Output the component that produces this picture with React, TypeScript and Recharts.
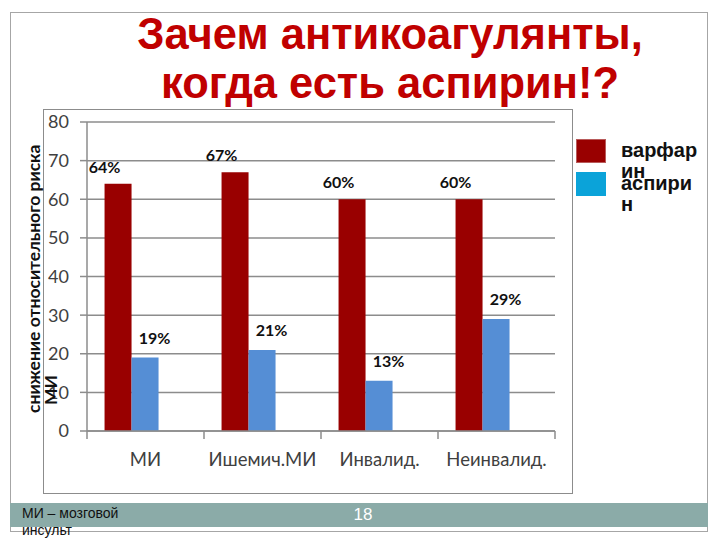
import { BarChart, Bar, XAxis, YAxis, CartesianGrid, LabelList } from 'recharts'

const categories = ['МИ', 'Ишемич.МИ', 'Инвалид.', 'Неинвалид.']
const warfarin = [64, 67, 60, 60]
const aspirin = [19, 21, 13, 29]
const yTicks = [0, 10, 20, 30, 40, 50, 60, 70, 80]
const seriesNames = ['варфарин', 'аспирин']

const data = categories.map((name, i) => ({
  name,
  warfarin: warfarin[i],
  aspirin: aspirin[i],
}))

// plot area inside the 720x540 slide
const PLOT_LEFT = 87
const PLOT_RIGHT = 555
const PLOT_TOP = 122
const PLOT_BOTTOM = 431
const Y_AXIS_W = 40
const X_AXIS_H = 30
const BAND = (PLOT_RIGHT - PLOT_LEFT) / categories.length

const RED = '#990000'
const BLUE = '#558ED5'
const legendColors = ['#990000', '#0BA3D9']
const GRID = '#8c8c8c'
const chartFont = 'Lato, "Noto Sans", sans-serif'

function XTick(props: any) {
  const { x, y, payload, index } = props
  const last = index === categories.length - 1
  return (
    <g>
      <line x1={x - BAND / 2} x2={x - BAND / 2} y1={y} y2={y + 8} stroke={GRID} strokeWidth={1.5} />
      {last && <line x1={x + BAND / 2} x2={x + BAND / 2} y1={y} y2={y + 8} stroke={GRID} strokeWidth={1.5} />}
      <text x={x} y={y + 35} textAnchor="middle" fontSize={18.5} fill="#404040" fontFamily={chartFont}>
        {payload.value}
      </text>
    </g>
  )
}

function redLabel(props: any) {
  const { x, y, value } = props
  return (
    <text x={x} y={y - 11} textAnchor="middle" fontSize={16} fontWeight="bold" fill="#111" fontFamily={chartFont}>
      {value}%
    </text>
  )
}

function blueLabel(props: any) {
  const { x, y, width, value } = props
  return (
    <text x={x + width * 0.85} y={y - 14} textAnchor="middle" fontSize={16} fontWeight="bold" fill="#111" fontFamily={chartFont}>
      {value}%
    </text>
  )
}

function LegendBox() {
  return (
    <div style={{ position: 'absolute', left: 572, top: 139, width: 140 }}>
      {seriesNames.map((name, i) => (
        <div key={name} style={{ position: 'relative', height: 33 }}>
          <div
            style={{
              position: 'absolute',
              left: 4,
              top: 0,
              width: 30,
              height: 24,
              boxSizing: 'border-box',
              background: legendColors[i],
              border: i === 0 ? '1.5px solid #b85a5a' : 'none',
            }}
          />
          <div
            style={{
              position: 'absolute',
              left: 49,
              top: 1,
              width: 82,
              wordBreak: 'break-all',
              fontFamily: '"Liberation Sans", Arial, sans-serif',
              fontWeight: 'bold',
              fontSize: 20,
              lineHeight: '21px',
              color: '#111',
            }}
          >
            {name}
          </div>
        </div>
      ))}
    </div>
  )
}

const rotated = {
  position: 'absolute' as const,
  transform: 'rotate(-90deg)',
  transformOrigin: 'left top',
  whiteSpace: 'nowrap' as const,
  fontFamily: chartFont,
  fontWeight: 'bold' as const,
  fontSize: 17.5,
  lineHeight: '17px',
  color: '#111',
}

export default function App() {
  return (
    <div style={{ position: 'absolute', left: 0, top: 0, width: 720, height: 540, background: '#fff', overflow: 'hidden' }}>
      {/* slide frame */}
      <div style={{ position: 'absolute', left: 10, top: 12, width: 698, height: 520, border: '1px solid #a6a6a6', boxSizing: 'border-box' }} />
      {/* title */}
      <div
        style={{
          position: 'absolute',
          left: 60,
          top: 10,
          width: 660,
          textAlign: 'center',
          fontFamily: '"Liberation Sans", Arial, sans-serif',
          fontWeight: 'bold',
          fontSize: 43.5,
          lineHeight: '49px',
          color: '#C00000',
        }}
      >
        Зачем антикоагулянты,
        <br />
        когда есть аспирин!?
      </div>
      {/* chart frame */}
      <div style={{ position: 'absolute', left: 43, top: 109, width: 530, height: 385, border: '1.5px solid #8c8c8c', boxSizing: 'border-box' }} />

      <div style={{ position: 'absolute', left: 0, top: 0 }}>
        <BarChart
          width={720}
          height={540}
          data={data}
          barCategoryGap="15%"
          barGap={0}
          margin={{
            top: PLOT_TOP,
            right: 720 - PLOT_RIGHT,
            bottom: 540 - PLOT_BOTTOM - X_AXIS_H,
            left: PLOT_LEFT - Y_AXIS_W,
          }}
        >
          <CartesianGrid vertical={false} stroke={GRID} strokeWidth={1.5} />
          <XAxis
            dataKey="name"
            height={X_AXIS_H}
            interval={0}
            tickLine={false}
            tickSize={0}
            tickMargin={0}
            axisLine={{ stroke: GRID, strokeWidth: 1.5 }}
            tick={<XTick />}
          />
          <YAxis
            width={Y_AXIS_W}
            domain={[0, 80]}
            ticks={yTicks}
            interval={0}
            tickSize={7}
            tickMargin={11}
            axisLine={{ stroke: GRID, strokeWidth: 1.5 }}
            tickLine={{ stroke: GRID, strokeWidth: 1.5 }}
            tick={{ fontSize: 18, fill: '#404040', fontFamily: chartFont }}
          />
          <Bar dataKey="warfarin" name={seriesNames[0]} fill={RED} isAnimationActive={false}>
            <LabelList dataKey="warfarin" content={redLabel} />
          </Bar>
          <Bar dataKey="aspirin" name={seriesNames[1]} fill={BLUE} isAnimationActive={false}>
            <LabelList dataKey="aspirin" content={blueLabel} />
          </Bar>
          {/* empty third slot of the original clustered layout */}
          <Bar dataKey="spare" fill="none" isAnimationActive={false} />
        </BarChart>
      </div>

      <LegendBox />

      {/* y axis title, two rotated lines */}
      <div style={{ ...rotated, left: 25, top: 413 }}>снижение относительного риска</div>
      <div style={{ ...rotated, left: 42, top: 405 }}>МИ</div>

      {/* footer */}
      <div style={{ position: 'absolute', left: 10, top: 503, width: 698, height: 24, background: '#8BABA8' }} />
      <div
        style={{
          position: 'absolute',
          left: 350,
          top: 505,
          width: 26,
          textAlign: 'center',
          fontFamily: '"Liberation Sans Narrow", "Liberation Sans", Arial, sans-serif',
          fontSize: 17,
          lineHeight: '20px',
          color: '#fff',
        }}
      >
        18
      </div>
      <div
        style={{
          position: 'absolute',
          left: 22,
          top: 505,
          width: 120,
          fontFamily: '"Liberation Sans Narrow", "Liberation Sans", Arial, sans-serif',
          fontSize: 14,
          lineHeight: '17px',
          color: '#111',
        }}
      >
        МИ – мозговой инсульт
      </div>
    </div>
  )
}
